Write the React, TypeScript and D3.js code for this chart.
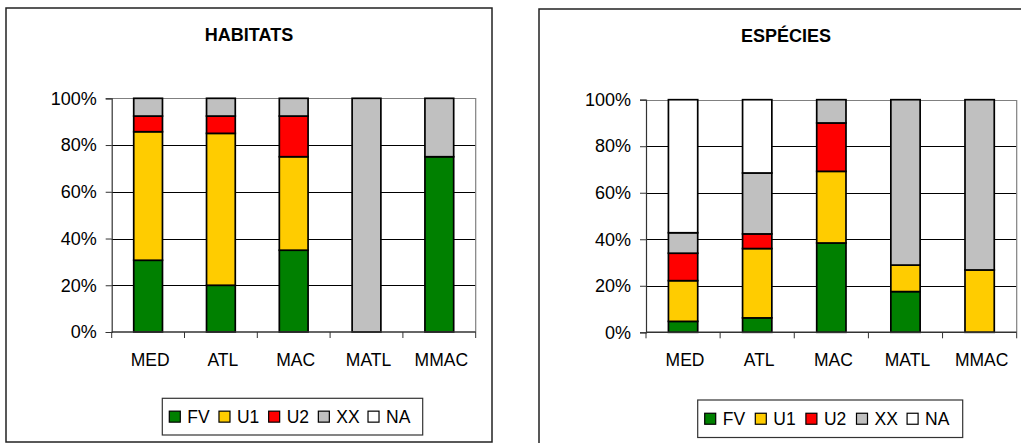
import React, { useEffect, useRef } from 'react';
import * as d3 from 'd3';

// categories, series keys and colours
const regions = ['MED', 'ATL', 'MAC', 'MATL', 'MMAC'];
const statusKeys = ['FV', 'U1', 'U2', 'XX', 'NA'];
const statusColors = ['#008000', '#FFCC00', '#FF0000', '#C0C0C0', '#FFFFFF'];
const pctTicks = [0, 0.2, 0.4, 0.6, 0.8, 1];

// percentage shares, one array per status
const habFV = [30.7, 20, 35, 0, 75];
const habU1 = [55, 65, 40, 0, 0];
const habU2 = [6.7, 7.4, 17.4, 0, 0];
const habXX = [7.6, 7.6, 7.6, 100, 25];
const habNA = [0, 0, 0, 0, 0];

const spFV = [4.7, 6.2, 38.4, 17.5, 0];
const spU1 = [17.5, 29.8, 30.8, 11.4, 26.8];
const spU2 = [11.8, 6.3, 20.8, 0, 0];
const spXX = [8.8, 26.2, 10, 71.1, 73.2];
const spNA = [57.2, 31.5, 0, 0, 0];

const FONT = "'Liberation Sans', Arial, sans-serif";

const toRows = (series: number[][]) =>
  regions.map((r, i) => {
    const row: any = { region: r };
    const total = d3.sum(series, (s) => s[i]);
    statusKeys.forEach((k, j) => { row[k] = series[j][i] / total; });
    return row;
  });

const panels = [
  {
    title: 'HABITATS',
    rows: toRows([habFV, habU1, habU2, habXX, habNA]),
    box: { x: 6, y: 8, w: 486, h: 434 },
    plot: { left: 111.7, right: 475.7, top: 98.3, bottom: 332 },
    legend: { x: 162.3, y: 398.3, w: 260.4, h: 36.7 },
  },
  {
    title: 'ESPÉCIES',
    rows: toRows([spFV, spU1, spU2, spXX, spNA]),
    box: { x: 539, y: 9, w: 494, h: 440 },
    plot: { left: 646, right: 1016.7, top: 99.7, bottom: 332.3 },
    legend: { x: 697.7, y: 400, w: 265, h: 37.5 },
  },
];

const App: React.FC = () => {
  const svgRef = useRef<SVGSVGElement>(null);

  useEffect(() => {
    if (!svgRef.current) return;
    const svg = d3.select(svgRef.current);
    svg.selectAll('*').remove();

    const color = d3.scaleOrdinal<string>().domain(statusKeys).range(statusColors);
    const stack = d3.stack<any>().keys(statusKeys);

    panels.forEach((p) => {
      const g = svg.append('g');

      // outer chart frame
      g.append('rect')
        .attr('x', p.box.x).attr('y', p.box.y)
        .attr('width', p.box.w).attr('height', p.box.h)
        .attr('fill', '#fff')
        .attr('stroke', '#222')
        .attr('stroke-width', 1.5);

      g.append('text')
        .attr('x', p.box.x + p.box.w / 2)
        .attr('y', p.box.y + 33)
        .attr('text-anchor', 'middle')
        .style('font-family', FONT)
        .style('font-size', '18px')
        .style('font-weight', 'bold')
        .text(p.title);

      const x = d3.scaleBand<string>()
        .domain(regions)
        .range([p.plot.left, p.plot.right])
        .paddingInner(0)
        .paddingOuter(0);
      const y = d3.scaleLinear().domain([0, 1]).range([p.plot.bottom, p.plot.top]);

      // gridlines
      g.append('g')
        .selectAll('line')
        .data(pctTicks.slice(1, -1))
        .join('line')
        .attr('x1', p.plot.left).attr('x2', p.plot.right)
        .attr('y1', (d) => Math.round(y(d)) + 0.5)
        .attr('y2', (d) => Math.round(y(d)) + 0.5)
        .attr('stroke', '#000')
        .attr('stroke-width', 1);

      // plot area border (top + right)
      g.append('path')
        .attr('d', `M${p.plot.left},${Math.round(p.plot.top) + 0.5}H${p.plot.right}V${p.plot.bottom}`)
        .attr('fill', 'none')
        .attr('stroke', '#808080')
        .attr('stroke-width', 1.2);

      // y axis
      const yAxis = g.append('g')
        .attr('transform', `translate(${p.plot.left},0)`)
        .call(d3.axisLeft(y).tickValues(pctTicks).tickFormat(d3.format('.0%')).tickSize(6).tickPadding(9));
      yAxis.select('.domain').attr('stroke', '#333').attr('stroke-width', 1.2);
      yAxis.selectAll('.tick line').attr('stroke', '#333');
      yAxis.selectAll('text')
        .style('font-family', FONT)
        .style('font-size', '18px')
        .attr('fill', '#000');

      // bars
      const barW = x.bandwidth() * 0.395;
      const layers = stack(p.rows);
      g.append('g')
        .selectAll('g')
        .data(layers)
        .join('g')
        .attr('fill', (d) => color(d.key))
        .selectAll('rect')
        .data((d) => d.filter((s) => s[1] - s[0] > 1e-6))
        .join('rect')
        .attr('x', (d) => (x(d.data.region) as number) + x.bandwidth() / 2 - barW / 2)
        .attr('y', (d) => y(d[1]))
        .attr('width', barW)
        .attr('height', (d) => y(d[0]) - y(d[1]))
        .attr('stroke', '#000')
        .attr('stroke-width', 1.7);

      // x axis with ticks at category boundaries
      const bounds = regions.map((r) => x(r) as number).concat([p.plot.right]);
      g.append('line')
        .attr('x1', p.plot.left).attr('x2', p.plot.right)
        .attr('y1', p.plot.bottom).attr('y2', p.plot.bottom)
        .attr('stroke', '#333').attr('stroke-width', 1.5);
      g.append('g')
        .selectAll('line')
        .data(bounds)
        .join('line')
        .attr('x1', (d) => d).attr('x2', (d) => d)
        .attr('y1', p.plot.bottom).attr('y2', p.plot.bottom + 6)
        .attr('stroke', '#333');
      g.append('g')
        .selectAll('text')
        .data(regions)
        .join('text')
        .attr('x', (d) => (x(d) as number) + x.bandwidth() / 2 + 2)
        .attr('y', p.plot.bottom + 33.5)
        .attr('text-anchor', 'middle')
        .style('font-family', FONT)
        .style('font-size', '17.5px')
        .text((d) => d);

      // legend
      const lg = g.append('g').attr('transform', `translate(${p.legend.x},${p.legend.y})`);
      lg.append('rect')
        .attr('width', p.legend.w).attr('height', p.legend.h)
        .attr('fill', '#fff')
        .attr('stroke', '#333')
        .attr('stroke-width', 1.2);
      const step = (p.legend.w - 12) / statusKeys.length;
      const item = lg.selectAll('g')
        .data(statusKeys)
        .join('g')
        .attr('transform', (d, i) => `translate(${7 + i * step},${p.legend.h / 2})`);
      item.append('rect')
        .attr('x', 0).attr('y', -5.5)
        .attr('width', 11).attr('height', 11)
        .attr('fill', (d) => color(d))
        .attr('stroke', '#000')
        .attr('stroke-width', 1.2);
      item.append('text')
        .attr('x', 18)
        .attr('y', 6.5)
        .style('font-family', FONT)
        .style('font-size', '17.5px')
        .text((d) => d);
    });
  }, []);

  return (
    <svg
      ref={svgRef}
      width={1021}
      height={443}
      style={{ position: 'absolute', left: 0, top: 0, background: '#fff' }}
    />
  );
};

export default App;
